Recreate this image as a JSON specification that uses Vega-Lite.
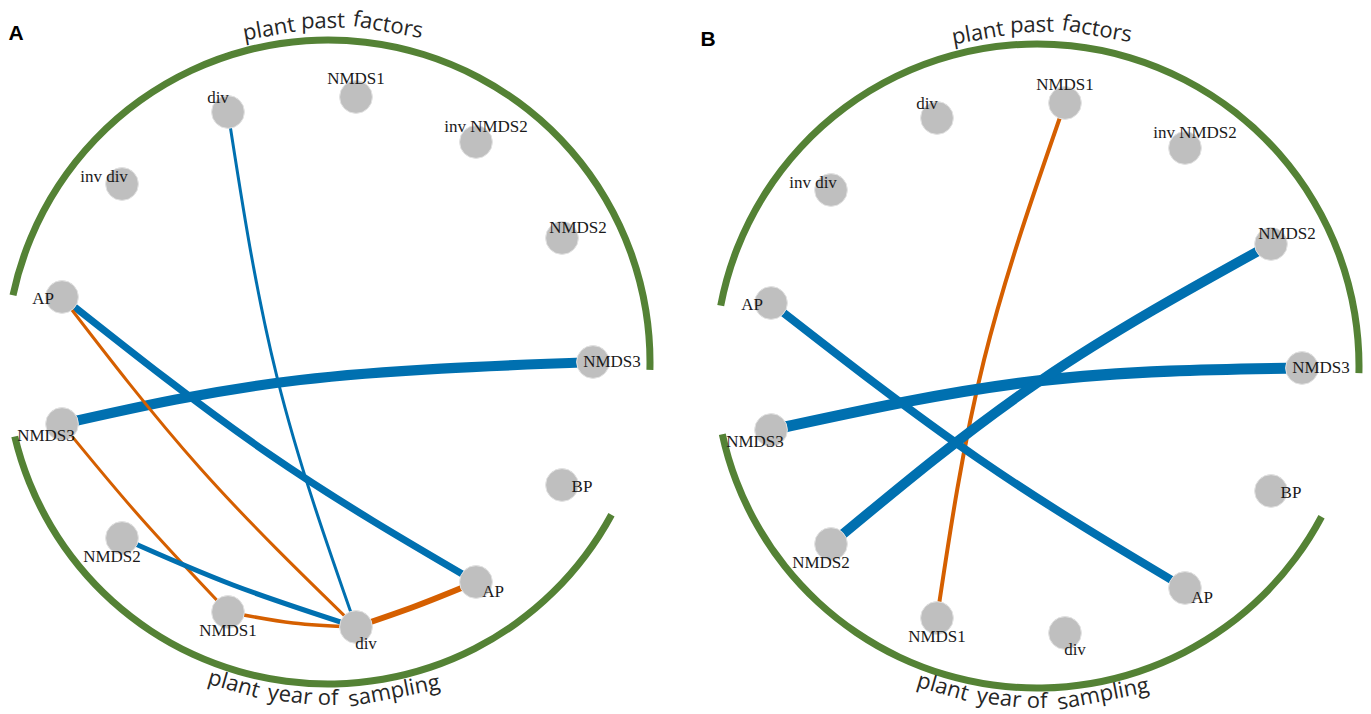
{
  "$schema": "https://vega.github.io/schema/vega-lite/v6.json",
  "width": 1371,
  "height": 714,
  "autosize": {"type": "fit", "contains": "padding"},
  "padding": 0,
  "background": "white",
  "config": {"view": {"stroke": null}},
  "datasets": {
    "arcs": [
      {"panel": "A", "part": "plant past factors", "x": 328, "y": 362, "t1": -1.362, "t2": 1.595},
      {"panel": "A", "part": "plant year of sampling", "x": 328, "y": 362, "t1": 2.065, "t2": 4.479},
      {"panel": "B", "part": "plant past factors", "x": 1037, "y": 366, "t1": -1.382, "t2": 1.593},
      {"panel": "B", "part": "plant year of sampling", "x": 1037, "y": 366, "t1": 2.058, "t2": 4.499}
    ],
    "edges": [
      {"id": "A1", "k": 0, "x": 228, "y": 112, "sign": "positive", "strength": 0.25},
      {"id": "A1", "k": 1, "x": 277, "y": 377, "sign": "positive", "strength": 0.25},
      {"id": "A1", "k": 2, "x": 356, "y": 627, "sign": "positive", "strength": 0.25},
      {"id": "A2", "k": 0, "x": 62, "y": 297, "sign": "positive", "strength": 0.6},
      {"id": "A2", "k": 1, "x": 269, "y": 454, "sign": "positive", "strength": 0.6},
      {"id": "A2", "k": 2, "x": 476, "y": 582, "sign": "positive", "strength": 0.6},
      {"id": "A3", "k": 0, "x": 62, "y": 424, "sign": "positive", "strength": 0.85},
      {"id": "A3", "k": 1, "x": 300, "y": 380, "sign": "positive", "strength": 0.85},
      {"id": "A3", "k": 2, "x": 593, "y": 362, "sign": "positive", "strength": 0.85},
      {"id": "A4", "k": 0, "x": 62, "y": 297, "sign": "negative", "strength": 0.25},
      {"id": "A4", "k": 1, "x": 200, "y": 468, "sign": "negative", "strength": 0.25},
      {"id": "A4", "k": 2, "x": 356, "y": 627, "sign": "negative", "strength": 0.25},
      {"id": "A5", "k": 0, "x": 62, "y": 424, "sign": "negative", "strength": 0.25},
      {"id": "A5", "k": 1, "x": 140, "y": 517, "sign": "negative", "strength": 0.25},
      {"id": "A5", "k": 2, "x": 228, "y": 612, "sign": "negative", "strength": 0.25},
      {"id": "A6", "k": 0, "x": 122, "y": 538, "sign": "positive", "strength": 0.42},
      {"id": "A6", "k": 1, "x": 233, "y": 585, "sign": "positive", "strength": 0.42},
      {"id": "A6", "k": 2, "x": 356, "y": 627, "sign": "positive", "strength": 0.42},
      {"id": "A7", "k": 0, "x": 228, "y": 612, "sign": "negative", "strength": 0.29},
      {"id": "A7", "k": 1, "x": 293, "y": 623, "sign": "negative", "strength": 0.29},
      {"id": "A7", "k": 2, "x": 356, "y": 627, "sign": "negative", "strength": 0.29},
      {"id": "A8", "k": 0, "x": 356, "y": 627, "sign": "negative", "strength": 0.5},
      {"id": "A8", "k": 1, "x": 416, "y": 606, "sign": "negative", "strength": 0.5},
      {"id": "A8", "k": 2, "x": 476, "y": 582, "sign": "negative", "strength": 0.5},
      {"id": "B1", "k": 0, "x": 1065, "y": 103, "sign": "negative", "strength": 0.33},
      {"id": "B1", "k": 1, "x": 984, "y": 360, "sign": "negative", "strength": 0.33},
      {"id": "B1", "k": 2, "x": 937, "y": 618, "sign": "negative", "strength": 0.33},
      {"id": "B2", "k": 0, "x": 771, "y": 303, "sign": "positive", "strength": 0.67},
      {"id": "B2", "k": 1, "x": 979, "y": 459, "sign": "positive", "strength": 0.67},
      {"id": "B2", "k": 2, "x": 1185, "y": 588, "sign": "positive", "strength": 0.67},
      {"id": "B3", "k": 0, "x": 771, "y": 430, "sign": "positive", "strength": 0.92},
      {"id": "B3", "k": 1, "x": 1037, "y": 381, "sign": "positive", "strength": 0.92},
      {"id": "B3", "k": 2, "x": 1302, "y": 368, "sign": "positive", "strength": 0.92},
      {"id": "B4", "k": 0, "x": 831, "y": 544, "sign": "positive", "strength": 0.83},
      {"id": "B4", "k": 1, "x": 1040, "y": 381, "sign": "positive", "strength": 0.83},
      {"id": "B4", "k": 2, "x": 1271, "y": 244, "sign": "positive", "strength": 0.83}
    ],
    "nodes": [
      {"panel": "A", "name": "div", "x": 228, "y": 112, "lx": 218, "ly": 98},
      {"panel": "A", "name": "NMDS1", "x": 356, "y": 97, "lx": 356, "ly": 79},
      {"panel": "A", "name": "inv div", "x": 122, "y": 184, "lx": 104, "ly": 177},
      {"panel": "A", "name": "inv NMDS2", "x": 476, "y": 142, "lx": 486, "ly": 127},
      {"panel": "A", "name": "NMDS2", "x": 562, "y": 238, "lx": 578, "ly": 228},
      {"panel": "A", "name": "NMDS3", "x": 593, "y": 362, "lx": 612, "ly": 362},
      {"panel": "A", "name": "AP", "x": 62, "y": 297, "lx": 43, "ly": 299},
      {"panel": "A", "name": "NMDS3", "x": 62, "y": 424, "lx": 46, "ly": 436},
      {"panel": "A", "name": "NMDS2", "x": 122, "y": 538, "lx": 112, "ly": 557},
      {"panel": "A", "name": "NMDS1", "x": 228, "y": 612, "lx": 228, "ly": 631},
      {"panel": "A", "name": "div", "x": 356, "y": 627, "lx": 366, "ly": 644},
      {"panel": "A", "name": "AP", "x": 476, "y": 582, "lx": 493, "ly": 592},
      {"panel": "A", "name": "BP", "x": 562, "y": 485, "lx": 582, "ly": 487},
      {"panel": "B", "name": "div", "x": 937, "y": 118, "lx": 927, "ly": 104},
      {"panel": "B", "name": "NMDS1", "x": 1065, "y": 103, "lx": 1065, "ly": 85},
      {"panel": "B", "name": "inv div", "x": 831, "y": 190, "lx": 813, "ly": 183},
      {"panel": "B", "name": "inv NMDS2", "x": 1185, "y": 148, "lx": 1195, "ly": 133},
      {"panel": "B", "name": "NMDS2", "x": 1271, "y": 244, "lx": 1287, "ly": 234},
      {"panel": "B", "name": "NMDS3", "x": 1302, "y": 368, "lx": 1321, "ly": 368},
      {"panel": "B", "name": "AP", "x": 771, "y": 303, "lx": 752, "ly": 305},
      {"panel": "B", "name": "NMDS3", "x": 771, "y": 430, "lx": 755, "ly": 442},
      {"panel": "B", "name": "NMDS2", "x": 831, "y": 544, "lx": 821, "ly": 563},
      {"panel": "B", "name": "NMDS1", "x": 937, "y": 618, "lx": 937, "ly": 637},
      {"panel": "B", "name": "div", "x": 1065, "y": 633, "lx": 1075, "ly": 650},
      {"panel": "B", "name": "AP", "x": 1185, "y": 588, "lx": 1202, "ly": 598},
      {"panel": "B", "name": "BP", "x": 1271, "y": 491, "lx": 1291, "ly": 493}
    ],
    "titles": [
      {"word": "plant", "x": 269, "y": 29, "rot": -10},
      {"word": "past", "x": 323, "y": 21, "rot": -1},
      {"word": "factors", "x": 388, "y": 25, "rot": 10},
      {"word": "plant", "x": 234, "y": 684, "rot": 16},
      {"word": "year", "x": 290, "y": 695, "rot": 6.5},
      {"word": "of", "x": 328, "y": 698, "rot": 0},
      {"word": "sampling", "x": 394, "y": 691, "rot": -11},
      {"word": "plant", "x": 978, "y": 33, "rot": -10},
      {"word": "past", "x": 1032, "y": 25, "rot": -1},
      {"word": "factors", "x": 1097, "y": 29, "rot": 10},
      {"word": "plant", "x": 943, "y": 687, "rot": 16},
      {"word": "year", "x": 999, "y": 698, "rot": 6.5},
      {"word": "of", "x": 1037, "y": 701, "rot": 0},
      {"word": "sampling", "x": 1103, "y": 694, "rot": -11}
    ],
    "panels": [
      {"label": "A", "x": 16, "y": 34},
      {"label": "B", "x": 708, "y": 40}
    ]
  },
  "encoding": {
    "x": {"field": "x", "type": "quantitative", "scale": {"domain": [0, 1371], "nice": false, "zero": false}, "axis": null},
    "y": {"field": "y", "type": "quantitative", "scale": {"domain": [0, 714], "nice": false, "zero": false, "reverse": true}, "axis": null}
  },
  "layer": [
    {
      "data": {"name": "arcs"},
      "mark": {"type": "arc", "radius": 325.5, "radius2": 318.5, "color": "#548235"},
      "encoding": {
        "theta": {"field": "t1", "type": "quantitative", "scale": null},
        "theta2": {"field": "t2"}
      }
    },
    {
      "data": {"name": "edges"},
      "mark": {"type": "line", "interpolate": "natural", "strokeCap": "butt"},
      "encoding": {
        "detail": {"field": "id"},
        "order": {"field": "k", "type": "quantitative"},
        "color": {"field": "sign", "type": "nominal", "scale": {"domain": ["positive", "negative"], "range": ["#0070b0", "#d55f00"]}, "legend": null},
        "strokeWidth": {"field": "strength", "type": "quantitative", "scale": {"domain": [0, 1], "range": [0, 12]}, "legend": null}
      }
    },
    {
      "data": {"name": "nodes"},
      "mark": {"type": "circle", "size": 1075, "opacity": 1, "fill": "#bfbfbf", "stroke": "#e2e2e2", "strokeWidth": 1}
    },
    {
      "data": {"name": "nodes"},
      "mark": {"type": "text", "font": "Liberation Serif", "fontSize": 17, "color": "#1a1a1a", "align": "center", "baseline": "middle"},
      "encoding": {
        "x": {"field": "lx", "type": "quantitative", "scale": {"domain": [0, 1371], "nice": false, "zero": false}, "axis": null},
        "y": {"field": "ly", "type": "quantitative", "scale": {"domain": [0, 714], "nice": false, "zero": false, "reverse": true}, "axis": null},
        "text": {"field": "name"}
      }
    },
    {
      "data": {"name": "titles"},
      "mark": {"type": "text", "font": "Open Sans", "fontSize": 22, "color": "#262626", "align": "center", "baseline": "middle"},
      "encoding": {
        "text": {"field": "word"},
        "angle": {"field": "rot", "type": "quantitative", "scale": null}
      }
    },
    {
      "data": {"name": "panels"},
      "mark": {"type": "text", "font": "Liberation Sans", "fontSize": 21, "fontWeight": "bold", "color": "#000000", "align": "center", "baseline": "middle"},
      "encoding": {
        "text": {"field": "label"}
      }
    }
  ]
}
